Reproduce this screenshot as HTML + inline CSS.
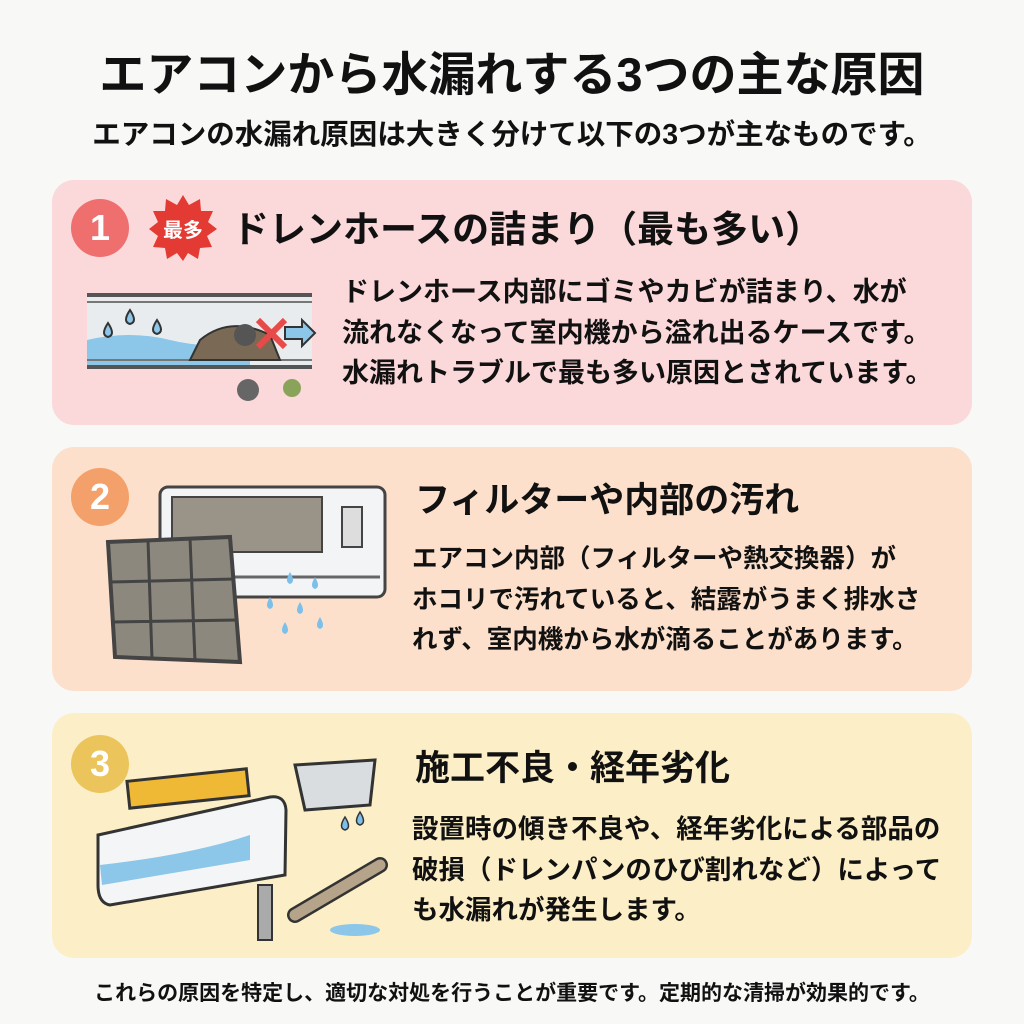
<!DOCTYPE html>
<html><head><meta charset="utf-8"><style>
*{margin:0;padding:0;box-sizing:border-box}
body{width:1024px;height:1024px;background:#f8f8f7;position:relative;overflow:hidden;font-family:"Liberation Sans","Noto Sans CJK JP",sans-serif;font-weight:bold;color:#111}
.a{position:absolute;white-space:nowrap}
.panel{position:absolute;left:52px;width:920px;border-radius:22px}
.num{position:absolute;width:58px;height:58px;border-radius:50%;color:#fff;font-size:36px;text-align:center;line-height:58px}
.t{font-size:26px;line-height:40.5px}
svg{position:absolute}
</style></head><body>
<div class="a" style="left:0;width:1024px;text-align:center;top:45px;font-size:47px;line-height:60px">エアコンから水漏れする3つの主な原因</div>
<div class="a" style="left:0;width:1024px;text-align:center;top:117px;font-size:28.5px;line-height:36px">エアコンの水漏れ原因は大きく分けて以下の3つが主なものです。</div>

<div class="panel" style="top:180px;height:245px;background:#fbd8d9"></div>
<div class="panel" style="top:447px;height:244px;background:#fde0cb"></div>
<div class="panel" style="top:713px;height:245px;background:#fcefc7"></div>

<div class="num" style="left:71px;top:199px;background:#ef6e6e">1</div>
<div class="num" style="left:71px;top:468px;background:#f4a06a">2</div>
<div class="num" style="left:71px;top:735px;background:#ecc45c">3</div>

<svg style="left:148px;top:193px" width="70" height="70" viewBox="0 0 70 70"><polygon fill="#e33b33" points="35,2 41,12 52,6 53,18 65,18 60,29 69,36 59,43 64,54 52,55 50,66 40,60 35,68 29,60 19,66 17,55 5,54 10,43 1,36 10,29 5,18 17,18 18,6 29,12"/><text x="35" y="44" font-size="20" fill="#fff" text-anchor="middle" font-family="Liberation Sans,Noto Sans CJK JP,sans-serif" font-weight="bold">最多</text></svg>
<div class="a" style="left:232px;top:206px;font-size:37px;line-height:48px">ドレンホースの詰まり（最も多い）</div>
<div class="a t" style="left:342px;top:272px;font-size:27px">ドレンホース内部にゴミやカビが詰まり、水が<br>流れなくなって室内機から溢れ出るケースです。<br>水漏れトラブルで最も多い原因とされています。</div>

<svg style="left:80px;top:285px" width="240" height="130" viewBox="0 0 240 130">
<rect x="7" y="10" width="225" height="72" fill="#e8ecee"/>
<path d="M7 55 Q50 45 90 55 T170 55 L170 82 L7 82Z" fill="#8cc6e8"/>
<path d="M7 10 H232 M7 82 H232" stroke="#555" stroke-width="4"/>
<path d="M7 17 H232 M7 75 H232" stroke="#777" stroke-width="2"/>
<path d="M120 55 Q150 30 190 50 L200 75 L110 75Z" fill="#7a6a55" stroke="#333" stroke-width="2"/>
<circle cx="165" cy="50" r="11" fill="#555"/>
<path d="M178 35 L205 62 M205 35 L178 62" stroke="#e84a4a" stroke-width="6"/>
<path d="M205 42 H222 V35 L235 48 L222 61 V54 H205Z" fill="#8cc6e8" stroke="#333" stroke-width="2"/>
<g fill="#8cc6e8" stroke="#333" stroke-width="2"><path d="M28 38 q-8 12 0 14 q8 -2 0 -14Z"/><path d="M50 25 q-8 12 0 14 q8 -2 0 -14Z"/><path d="M77 35 q-8 12 0 14 q8 -2 0 -14Z"/></g>
<circle cx="168" cy="105" r="11" fill="#666"/><circle cx="212" cy="103" r="9" fill="#8aa35a"/>
</svg>

<div class="a" style="left:415px;top:477px;font-size:35px;line-height:48px">フィルターや内部の汚れ</div>
<div class="a t" style="left:412px;top:539px;font-size:25.5px">エアコン内部（フィルターや熱交換器）が<br>ホコリで汚れていると、結露がうまく排水さ<br>れず、室内機から水が滴ることがあります。</div>
<svg style="left:80px;top:482px" width="310" height="190" viewBox="0 0 310 190">
<rect x="80" y="5" width="225" height="110" rx="8" fill="#f3f4f5" stroke="#444" stroke-width="3"/>
<rect x="92" y="15" width="150" height="55" fill="#9a9488" stroke="#444" stroke-width="2"/>
<rect x="262" y="25" width="20" height="40" fill="#ddd" stroke="#444" stroke-width="2"/>
<path d="M90 95 H300" stroke="#666" stroke-width="3"/>
<path d="M28 60 L150 55 L160 180 L35 175Z" fill="#8d887d" stroke="#444" stroke-width="4"/>
<path d="M68 58 L72 177 M110 56 L115 179 M30 100 L155 97 M32 140 L158 138" stroke="#444" stroke-width="3"/>
<g fill="#7cc0ea"><path d="M210 90 q-6 10 0 12 q6-2 0-12Z"/><path d="M235 95 q-6 10 0 12 q6-2 0-12Z"/><path d="M190 115 q-6 10 0 12 q6-2 0-12Z"/><path d="M220 120 q-6 10 0 12 q6-2 0-12Z"/><path d="M205 140 q-6 10 0 12 q6-2 0-12Z"/><path d="M240 135 q-6 10 0 12 q6-2 0-12Z"/></g>
</svg>

<div class="a" style="left:415px;top:745px;font-size:35px;line-height:48px">施工不良・経年劣化</div>
<div class="a t" style="left:412px;top:809px;font-size:26.5px">設置時の傾き不良や、経年劣化による部品の<br>破損（ドレンパンのひび割れなど）によって<br>も水漏れが発生します。</div>
<svg style="left:90px;top:735px" width="300" height="210" viewBox="0 0 300 210">
<rect x="38" y="40" width="120" height="27" fill="#efb936" stroke="#333" stroke-width="3" transform="rotate(-6 98 53)"/>
<path d="M8 100 L180 62 Q195 60 196 75 L195 140 L20 170 Q8 168 8 150Z" fill="#f4f5f6" stroke="#333" stroke-width="3"/>
<path d="M10 130 Q100 120 160 100 L160 125 L12 150Z" fill="#8cc6e8"/>
<rect x="168" y="150" width="14" height="55" fill="#aaa" stroke="#333" stroke-width="2"/>
<path d="M205 30 L285 25 L280 70 L215 75Z" fill="#d9dde0" stroke="#333" stroke-width="3"/>
<g fill="#7cc0ea" stroke="#333" stroke-width="1.5"><path d="M255 82 q-7 11 0 13 q7-2 0-13Z"/><path d="M270 77 q-7 11 0 13 q7-2 0-13Z"/></g>
<path d="M205 180 L290 130" stroke="#333" stroke-width="16" stroke-linecap="round"/>
<path d="M205 180 L290 130" stroke="#b5a48a" stroke-width="11" stroke-linecap="round"/>
<ellipse cx="265" cy="195" rx="25" ry="6" fill="#8cc6e8"/>
</svg>

<div class="a" style="left:0;width:1024px;text-align:center;top:979px;font-size:21px;line-height:30px">これらの原因を特定し、適切な対処を行うことが重要です。定期的な清掃が効果的です。</div>
</body></html>
